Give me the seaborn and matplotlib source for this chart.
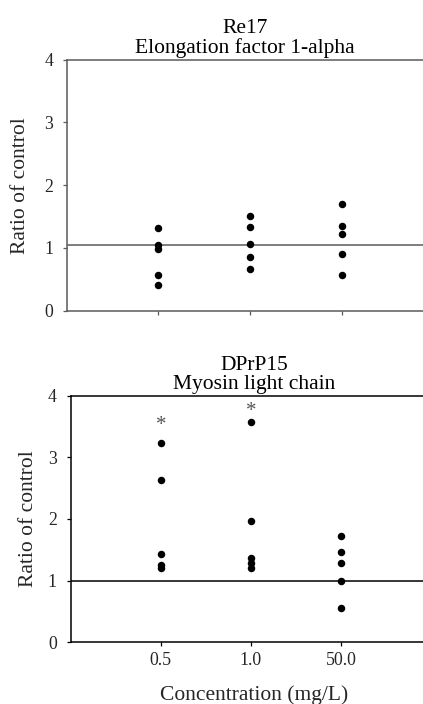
import matplotlib
matplotlib.use("Agg")
import matplotlib.pyplot as plt
import seaborn as sns
import pandas as pd

# ---- data ----
concentrations = ["0.5", "1.0", "50.0"]
re17_05 = [1.31, 1.05, 0.98, 0.57, 0.41]
re17_10 = [1.51, 1.34, 1.07, 0.86, 0.66]
re17_50 = [1.70, 1.35, 1.22, 0.90, 0.57]
dprp_05 = [3.23, 2.63, 1.43, 1.26, 1.21]
dprp_10 = [3.57, 1.97, 1.36, 1.28, 1.21]
dprp_50 = [1.73, 1.47, 1.29, 1.00, 0.56]
re17_ref = 1.04
dprp_ref = 1.00
sig_groups = ["0.5", "1.0"]
sig_y = [3.51, 3.74]
y_ticks = [0, 1, 2, 3, 4]
titles = ["Re17\nElongation factor 1-alpha", "DPrP15\nMyosin light chain"]
ylabel = "Ratio of control"
xlabel = "Concentration (mg/L)"

def to_df(groups):
    rows = []
    for c, vals in zip(concentrations, groups):
        for v in vals:
            rows.append({"conc": c, "ratio": v})
    return pd.DataFrame(rows)

df_top = to_df([re17_05, re17_10, re17_50])
df_bot = to_df([dprp_05, dprp_10, dprp_50])

sns.set_theme(style="white")
plt.rcParams["font.family"] = ["Liberation Serif", "DejaVu Serif"]

W, H = 423, 704
fig = plt.figure(figsize=(W / 100, H / 100), dpi=100)

def px_axes(left, right, top, bottom):
    return fig.add_axes([left / W, 1 - bottom / H, (right - left) / W, (bottom - top) / H])

ax1 = px_axes(67, 423, 59.7, 310.7)
ax2 = px_axes(70.7, 423, 395.7, 642.3)

def style(ax, df, ref, title, col, title_x, show_xlabels):
    sns.stripplot(data=df, x="conc", y="ratio", order=concentrations, jitter=False,
                  color="black", size=5.4, linewidth=0, ax=ax, zorder=3)
    ax.axhline(ref, color=col, lw=1.1, zorder=2)
    ax.set_ylim(0, 4)
    ax.set_xlim(-0.99, 2.88)
    ax.set_yticks(y_ticks)
    ax.set_yticklabels([str(t) for t in y_ticks], fontsize=12.8)
    ax.tick_params(axis="both", which="both", direction="out", length=3, width=0.9,
                   color=col, left=True, bottom=True, pad=7)
    ax.tick_params(axis="x", pad=4)
    for s in ["left", "bottom", "top"]:
        ax.spines[s].set_visible(True)
        ax.spines[s].set_color(col)
        ax.spines[s].set_linewidth(1.1)
    ax.spines["right"].set_visible(False)
    ax.set_xticks(range(len(concentrations)))
    if show_xlabels:
        ax.set_xticklabels(concentrations, fontsize=12.8)
    else:
        ax.set_xticklabels([])
    ax.set_xlabel("")
    ax.set_ylabel(ylabel, fontsize=15.5)
    ax.set_title(title, fontsize=15.5, linespacing=1.0, x=title_x, pad=5, color="black")

style(ax1, df_top, re17_ref, titles[0], "#5a5a5a", 0.5, False)
style(ax2, df_bot, dprp_ref, titles[1], "black", 0.52, True)
ax2.set_xlim(-1.0, 2.91)

ax1.yaxis.set_label_coords(-0.105, 0.5)
ax2.yaxis.set_label_coords(-0.093, 0.5)

ax2.set_xlabel(xlabel, fontsize=15.5)
ax2.xaxis.set_label_coords(0.522, -0.175)

for g, y in zip(sig_groups, sig_y):
    ax2.text(concentrations.index(g), y, "*", ha="center", va="center",
             fontsize=15, color="#555555")

fig.savefig("out.png", dpi=100)
